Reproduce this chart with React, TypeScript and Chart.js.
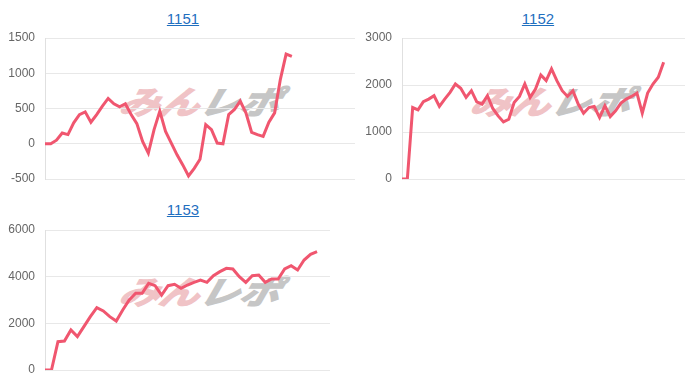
import React, { useEffect, useRef } from "react";
import { Chart, registerables } from "chart.js";

Chart.register(...registerables);

const titles = ["1151", "1152", "1153"];

const labels1 = Array.from({ length: 55 }, (_, i) => String(i + 1));
const labels2 = Array.from({ length: 54 }, (_, i) => String(i + 1));
const labels3 = Array.from({ length: 45 }, (_, i) => String(i + 1));

const series1 = [
  0, 0, 50, 153, 130, 296, 414, 452, 305, 414, 533, 643, 567, 524, 567, 414, 286, 33, -133, 200,
  462, 176, 10, -157, -300, -457, -348, -219, 271, 200, 10, 0, 414, 486, 605, 438, 162, 129, 105, 305,
  438, 914, 1271, 1238,
];
const series2 = [
  0, 0, 1521, 1471, 1643, 1700, 1771, 1543, 1700, 1843, 2021, 1929, 1736, 1879, 1643, 1593, 1771, 1500,
  1343, 1214, 1271, 1629, 1757, 2021, 1736, 1914, 2214, 2093, 2343, 2093, 1879, 1757, 1879, 1593, 1400,
  1521, 1543, 1307, 1557, 1329, 1450, 1614, 1700, 1757, 1829, 1400, 1829, 2021, 2164, 2486,
];
const series3 = [
  0, 0, 1214, 1243, 1714, 1429, 1857, 2286, 2671, 2529, 2286, 2100, 2571, 3000, 3286, 3286, 3714, 3614,
  3214, 3614, 3671, 3500, 3643, 3757, 3857, 3757, 4043, 4214, 4357, 4329, 4000, 3757, 4043, 4071, 3757,
  3900, 3900, 4329, 4471, 4286, 4714, 4957, 5071,
];

const yTicks1 = { min: -500, max: 1500, step: 500 };
const yTicks2 = { min: 0, max: 3000, step: 1000 };
const yTicks3 = { min: 0, max: 6000, step: 2000 };

type Box = { left: number; top: number; width: number; height: number };

function LineChart(props: {
  box: Box;
  labels: string[];
  data: number[];
  ticks: { min: number; max: number; step: number };
  yWidth: number;
  padding: { top: number; right: number; bottom: number; left: number };
}) {
  const ref = useRef<HTMLCanvasElement | null>(null);
  useEffect(() => {
    if (!ref.current) return;
    const chart = new Chart(ref.current, {
      type: "line",
      data: {
        labels: props.labels,
        datasets: [
          {
            data: props.data,
            borderColor: "#f0566f",
            backgroundColor: "#f0566f",
            borderWidth: 3,
            pointRadius: 0,
            fill: false,
            tension: 0,
          },
        ],
      },
      options: {
        responsive: false,
        maintainAspectRatio: false,
        animation: false,
        layout: { padding: props.padding },
        plugins: { legend: { display: false }, tooltip: { enabled: false } },
        scales: {
          x: { display: false },
          y: {
            min: props.ticks.min,
            max: props.ticks.max,
            ticks: {
              stepSize: props.ticks.step,
              color: "#666",
              padding: 10,
              font: { family: "'Liberation Sans', Arial, sans-serif", size: 12 },
              callback: (v: any) => String(v),
            },
            grid: { color: "#e8e8e8", drawTicks: false },
            border: { display: true, color: "#e0e0e0" },
            afterFit: (scale: any) => {
              scale.width = props.yWidth;
              scale.paddingTop = 0;
              scale.paddingBottom = 0;
            },
          },
        },
      },
    });
    return () => chart.destroy();
  }, []);
  const b = props.box;
  return (
    <canvas
      ref={ref}
      width={b.width}
      height={b.height}
      style={{ position: "absolute", left: b.left, top: b.top, width: b.width, height: b.height }}
    />
  );
}

function Title(props: { text: string; cx: number; cy: number }) {
  return (
    <a
      href="#"
      style={{
        position: "absolute",
        left: props.cx - 40,
        top: props.cy - 10,
        width: 80,
        textAlign: "center",
        fontFamily: "'Liberation Sans', Arial, sans-serif",
        fontSize: 15,
        lineHeight: "20px",
        color: "#1f6fbf",
        textDecoration: "underline",
      }}
    >
      {props.text}
    </a>
  );
}

function Watermark(props: { cx: number; cy: number }) {
  return (
    <div
      style={{
        position: "absolute",
        left: props.cx - 100,
        top: props.cy - 20,
        width: 200,
        height: 40,
        textAlign: "center",
        fontFamily: "'Noto Sans CJK JP', sans-serif",
        fontWeight: 700,
        fontStyle: "italic",
        fontSize: 32,
        lineHeight: "40px",
        letterSpacing: 0,
        transform: "scaleX(1.25) skewX(-12deg)",
        whiteSpace: "nowrap",
      }}
    >
      <span style={{ color: "#f0c3c6", WebkitTextStroke: "1.5px #f0c3c6" } as any}>みん</span>
      <span style={{ color: "#c6c6c6", WebkitTextStroke: "1.5px #c6c6c6" } as any}>レポ</span>
    </div>
  );
}

export default function App() {
  return (
    <div
      style={{
        position: "absolute",
        left: 0,
        top: 0,
        width: 700,
        height: 386,
        background: "#fff",
        overflow: "hidden",
      }}
    >
      <Watermark cx={201} cy={100} />
      <Watermark cx={552} cy={100} />
      <Watermark cx={201} cy={290} />
      <Title text={titles[0]} cx={183} cy={19} />
      <Title text={titles[1]} cx={538} cy={19} />
      <Title text={titles[2]} cx={183} cy={210} />
      <LineChart
        box={{ left: 0, top: 28, width: 360, height: 160 }}
        labels={labels1}
        data={series1}
        ticks={yTicks1}
        yWidth={45}
        padding={{ top: 10, right: 5, bottom: 9, left: 0 }}
      />
      <LineChart
        box={{ left: 355, top: 28, width: 345, height: 160 }}
        labels={labels2}
        data={series2}
        ticks={yTicks2}
        yWidth={47}
        padding={{ top: 10, right: 15, bottom: 9, left: 0 }}
      />
      <LineChart
        box={{ left: 0, top: 220, width: 360, height: 160 }}
        labels={labels3}
        data={series3}
        ticks={yTicks3}
        yWidth={45}
        padding={{ top: 10, right: 30, bottom: 10, left: 0 }}
      />
    </div>
  );
}
